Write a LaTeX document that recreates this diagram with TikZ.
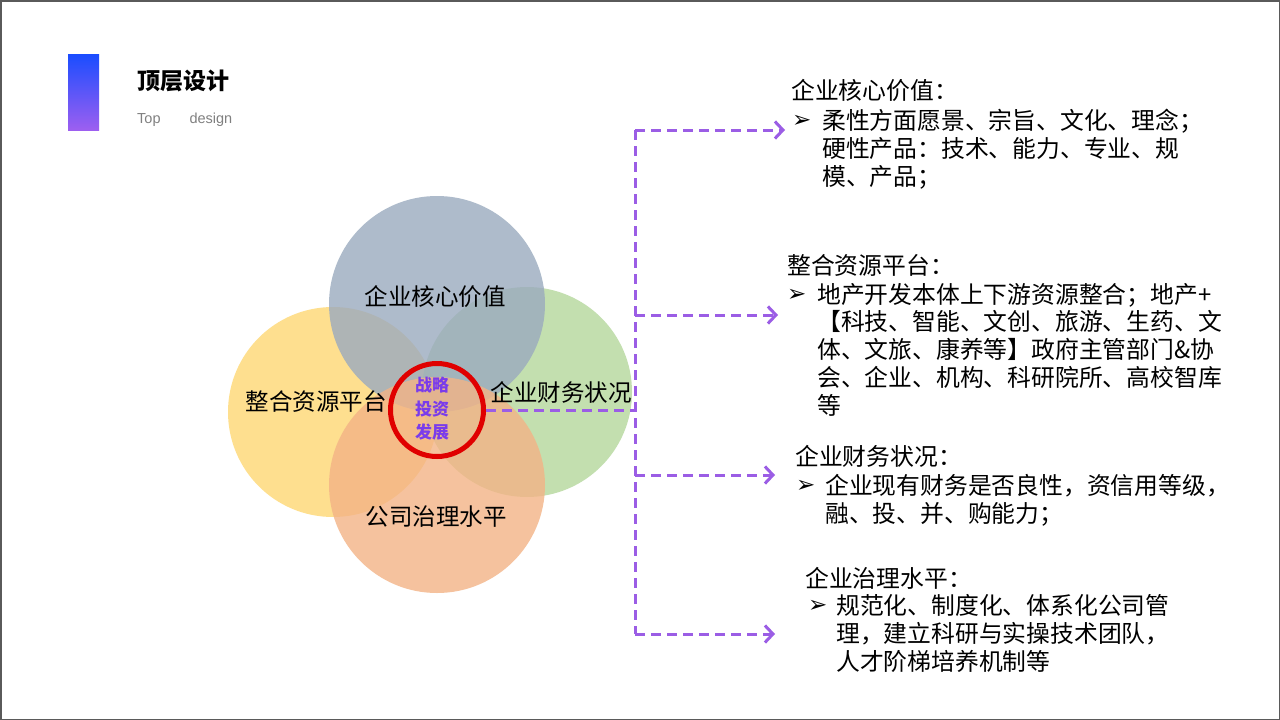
\documentclass[tikz,border=0pt]{standalone}
\usepackage{fontspec}
\usetikzlibrary{arrows.meta}
\setmainfont{Liberation Sans}
\newfontfamily\cjk{Noto Sans CJK SC}
\newfontfamily\dejavu{DejaVu Sans}
\definecolor{barTop}{RGB}{26,77,255}
\definecolor{barBot}{RGB}{157,95,240}
\definecolor{conn}{RGB}{155,93,229}
\definecolor{ctext}{RGB}{122,60,235}
\definecolor{ringred}{RGB}{224,0,0}
\definecolor{cblue}{RGB}{154,170,191}
\definecolor{cyellow}{RGB}{254,216,115}
\definecolor{cgreen}{RGB}{180,215,156}
\definecolor{corange}{RGB}{243,179,134}
\definecolor{frame}{RGB}{90,90,90}
\definecolor{subgrey}{RGB}{128,128,128}
\tikzset{
  petal/.style={fill opacity=0.8, draw=none},
  petallabel/.style={font=\cjk\fontsize{23.5}{28}\selectfont, inner sep=0pt},
  line/.style={font=\cjk\fontsize{23.8}{28}\selectfont, anchor=base west, inner sep=0pt},
  bul/.style={font=\dejavu\fontsize{23}{26}\selectfont, anchor=west, inner sep=0pt},
  connline/.style={draw=conn, line width=3pt, dash pattern=on 10pt off 6pt},
  connarrow/.style={connline, -{Straight Barb[length=8pt,width=17pt,line width=3pt]}},
}
\begin{document}
\begin{tikzpicture}[x=1pt,y=-1pt]
\useasboundingbox (0,0) rectangle (1280,720);
\fill[white] (0,0) rectangle (1280,720);
\draw[frame, line width=1.5pt] (0.75,0.75) rectangle (1279.25,719.25);

% header
\shade[top color=barTop, bottom color=barBot] (68,54) rectangle (99,130);
\node[font=\cjk\bfseries\fontsize{23}{26}\selectfont, anchor=west, inner sep=0pt] (title) at (137,81) {顶层设计};
\node[font=\fontsize{14.5}{16}\selectfont, text=subgrey, anchor=west, inner sep=0pt] (sub) at (137,120) {Top\hspace{29pt}design};

% petals
\fill[petal, cyellow] (333,412) circle[radius=105pt];
\fill[petal, cgreen] (527,392) circle[radius=105pt];
\fill[petal, cblue] (437,304) circle[radius=108pt];
\fill[petal, corange] (437,485) circle[radius=108pt];

\node[petallabel] (p1) at (435,297) {企业核心价值};
\node[petallabel] (p2) at (316,402) {整合资源平台};
\node[petallabel] (p3) at (561,392) {企业财务状况};
\node[petallabel] (p4) at (436,517) {公司治理水平};

% ring
\node[circle, draw=ringred, line width=5pt, minimum size=93pt, inner sep=0pt] (ring) at (437,410) {};
\node[font=\cjk\bfseries\fontsize{17}{23.5}\selectfont, text=ctext, align=center, inner sep=0pt] (ctr) at (432,409) {战略\\投资\\发展};

% connectors
\coordinate (jc) at (635,410);
\coordinate (ja) at (635,130);
\coordinate (jb) at (635,315);
\coordinate (jd) at (635,475);
\coordinate (je) at (635,634);
\coordinate (ta) at (785,130);
\coordinate (tb) at (778,315);
\coordinate (td) at (775,475);
\coordinate (te) at (775,634);
\draw[connline] (ring.east) -- (jc);
\draw[connline] (ja) -- (je);
\draw[connarrow] (ja) -- (ta);
\draw[connarrow] (jb) -- (tb);
\draw[connarrow] (jd) -- (td);
\draw[connarrow] (je) -- (te);

% block 1
\node[line] (h1) at (791,99) {企业核心价值：};
\node[bul] (b1) at (792,121) {➢};
\node[line] (t1a) at (822,129) {柔性方面愿景、宗旨、文化、理念；};
\node[line] (t1b) at (822,157) {硬性产品：技术、能力、专业、规};
\node[line] (t1c) at (822,185) {模、产品；};

% block 2
\node[line] (h2) at (787,274) {整合资源平台：};
\node[bul] (b2) at (787,295) {➢};
\node[line] (t2a) at (817,303) {地产开发本体上下游资源整合；地产+};
\node[line] (t2b) at (817,330) {【科技、智能、文创、旅游、生药、文};
\node[line] (t2c) at (817,358) {体、文旅、康养等】政府主管部门\&协};
\node[line] (t2d) at (817,386) {会、企业、机构、科研院所、高校智库};
\node[line] (t2e) at (817,414) {等};

% block 3
\node[line] (h3) at (795,465) {企业财务状况：};
\node[bul] (b3) at (796,486) {➢};
\node[line] (t3a) at (825,494) {企业现有财务是否良性，资信用等级，};
\node[line] (t3b) at (825,522) {融、投、并、购能力；};

% block 4
\node[line] (h4) at (805,587) {企业治理水平：};
\node[bul] (b4) at (808,606) {➢};
\node[line] (t4a) at (836,614) {规范化、制度化、体系化公司管};
\node[line] (t4b) at (836,642) {理，建立科研与实操技术团队，};
\node[line] (t4c) at (836,670) {人才阶梯培养机制等};
\end{tikzpicture}
\end{document}
